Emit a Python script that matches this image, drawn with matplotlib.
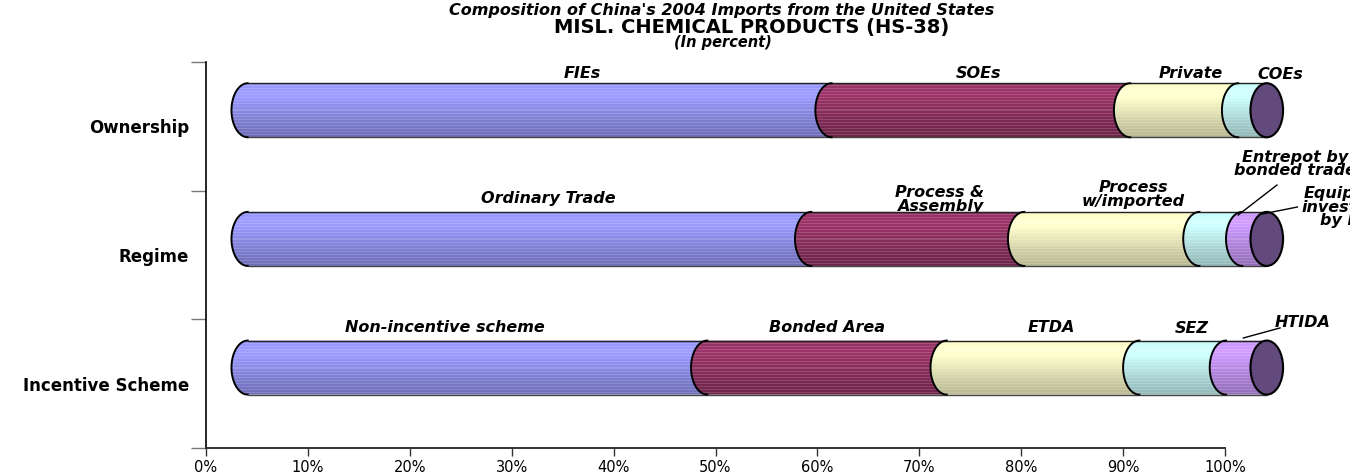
import numpy as np
import matplotlib
matplotlib.use("Agg")
import matplotlib.pyplot as plt
from matplotlib.patches import Polygon, Ellipse

# ---- data (percent of imports) ----
categories = ["Incentive Scheme", "Regime", "Ownership"]

incentive_labels = ["Non-incentive scheme", "Bonded Area", "ETDA", "SEZ", "HTIDA"]
incentive_values = [45.1, 23.5, 18.9, 8.5, 4.0]

regime_labels = ["Ordinary Trade", "Process &\nAssembly", "Process\nw/imported",
                 "Entrepot by\nbonded trade", "Equipment\ninvestment\nby FIEs"]
regime_values = [55.3, 20.9, 17.2, 4.2, 2.4]

ownership_labels = ["FIEs", "SOEs", "Private", "COEs"]
ownership_values = [57.3, 29.3, 10.6, 2.8]

x_ticks = [0, 10, 20, 30, 40, 50, 60, 70, 80, 90, 100]

# ---- styling ----
plt.rcParams["font.family"] = ["DejaVu Sans"]
seg_colors = ["#9999FF", "#993366", "#FFFFCC", "#CCFFFF", "#CC99FF"]
cap_color = "#634a7c"

DX = 4.1      # depth shift of the cylinders (percent units)
DY = 0.125    # depth shift upward (category units)
RX = 1.6      # half-width of the end ellipses
RY = 0.21     # half-height of the cylinders

# label placement (x in percent, y in category units) and leader lines
label_pos = {
    2: [(36.9, 2.414), (75.8, 2.414), (96.6, 2.414), (105.4, 2.399)],
    1: [(33.6, 1.443), (72.0, 1.43), (91.0, 1.47), (106.9, 1.707), (112.5, 1.373)],
    0: [(23.4, 0.44), (60.9, 0.44), (83.0, 0.44), (96.7, 0.425), (107.6, 0.479)],
}
leaders = [
    ((105.1, 1.544), (101.3, 1.311)),
    ((107.1, 1.373), (103.7, 1.319)),
    ((105.4, 0.433), (101.8, 0.355)),
]


def shaded(color, n=54):
    base = np.array(matplotlib.colors.to_rgb(color))
    t = np.linspace(1, 0, n)
    f = np.interp(t, [0, 0.3, 0.6, 0.8, 1.0], [0.72, 0.82, 0.95, 1.04, 0.96])
    rgb = np.clip(base[None, :] * f[:, None], 0, 1)
    stripes = (np.arange(n) % 3 == 0)
    rgb[stripes] = rgb[stripes] * 0.85 + 0.15
    return np.repeat(rgb[:, None, :], 2, axis=1)


def draw_cylinder(fig, ax, yc, values, labels):
    cy = yc + DY
    th = np.linspace(np.pi / 2, 3 * np.pi / 2, 60)
    starts = np.concatenate([[0], np.cumsum(values)[:-1]])
    for i, (s, v) in enumerate(zip(starts, values)):
        x0, x1 = s + DX, s + v + DX
        left = np.column_stack([x0 + RX * np.cos(th), cy + RY * np.sin(th)])
        right = np.column_stack([x1 + RX * np.cos(th[::-1]), cy + RY * np.sin(th[::-1])])
        poly = Polygon(np.vstack([left, right]), closed=True, facecolor="none",
                       edgecolor="none", zorder=3, clip_on=False)
        ax.add_patch(poly)
        im = ax.imshow(shaded(seg_colors[i]), extent=[x0 - RX, x1, cy - RY, cy + RY],
                       aspect="auto", origin="upper", interpolation="nearest", zorder=3)
        im.set_clip_box(fig.bbox)
        im.set_clip_path(poly)
        ax.plot([x0, x1], [cy + RY, cy + RY], color="#222222", lw=1.0, zorder=4,
                solid_capstyle="butt", clip_on=False)
        ax.plot([x0, x1], [cy - RY, cy - RY], color="#444444", lw=1.0, zorder=4,
                solid_capstyle="butt", clip_on=False)
        ax.plot(left[:, 0], left[:, 1], color="black", lw=1.4, zorder=5, clip_on=False)
    end = sum(values) + DX
    ax.add_patch(Ellipse((end, cy), 2 * RX, 2 * RY, facecolor=cap_color,
                         edgecolor="black", lw=1.5, zorder=6, clip_on=False))
    for lab, (lx, ly) in zip(labels, label_pos[yc]):
        ax.text(lx, ly, lab, ha="center", va="center", fontsize=11.5,
                fontweight="bold", fontstyle="italic", linespacing=0.9, zorder=2)


fig = plt.figure(figsize=(13.5, 4.76), dpi=100)
ax = fig.add_axes([206 / 1350, 28 / 476, (1225 - 206) / 1350, (448 - 62) / 476])

draw_cylinder(fig, ax, 2, ownership_values, ownership_labels)
draw_cylinder(fig, ax, 1, regime_values, regime_labels)
draw_cylinder(fig, ax, 0, incentive_values, incentive_labels)

for (xa, ya), (xb, yb) in leaders:
    ax.plot([xa, xb], [ya, yb], color="black", lw=1.0, zorder=7, clip_on=False)

ax.set_xlim(0, 100)
ax.set_ylim(-0.5, 2.5)

ax.set_xticks(x_ticks)
ax.set_xticklabels([f"{t}%" for t in x_ticks], fontsize=10.5)
ax.tick_params(axis="x", direction="out", length=6, width=1.0, pad=3, color="#333333")

ax.set_yticks([-0.5, 0.5, 1.5, 2.5])
ax.set_yticklabels([])
ax.tick_params(axis="y", which="major", direction="out", length=11, width=1.0,
               color="#777777")
ax.set_yticks([0, 1, 2], minor=True)
ax.set_yticklabels(categories, minor=True, fontsize=12, fontweight="bold")
ax.tick_params(axis="y", which="minor", length=0, pad=12)

for side in ("top", "right"):
    ax.spines[side].set_visible(False)
ax.spines["left"].set_color("black")
ax.spines["left"].set_linewidth(1.2)
ax.spines["bottom"].set_color("#333333")
ax.spines["bottom"].set_linewidth(1.4)

fig.text(722 / 1350, 1 - 11 / 476, "Composition of China's 2004 Imports from the United States",
         ha="center", va="center", fontsize=11.5, fontweight="bold", fontstyle="italic")
fig.text(752 / 1350, 1 - 28 / 476, "MISL. CHEMICAL PRODUCTS (HS-38)",
         ha="center", va="center", fontsize=14, fontweight="bold")
fig.text(723 / 1350, 1 - 43 / 476, "(In percent)",
         ha="center", va="center", fontsize=10.5, fontweight="bold", fontstyle="italic")

fig.savefig("out.png", dpi=100)
